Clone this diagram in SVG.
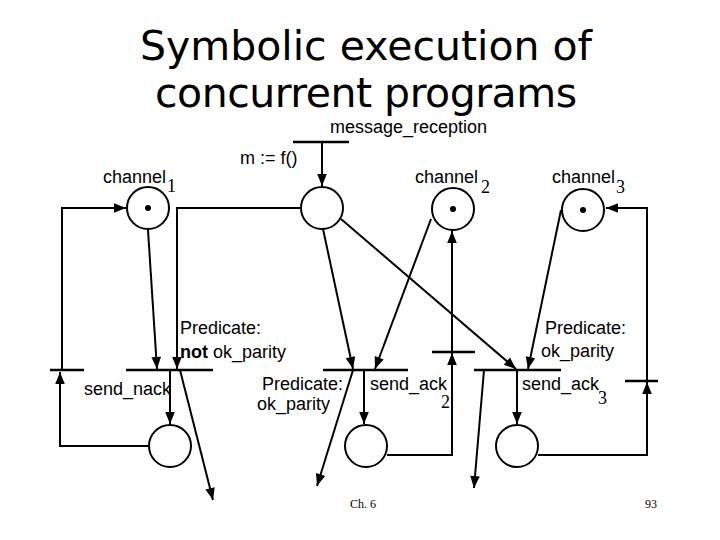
<svg xmlns="http://www.w3.org/2000/svg" width="720" height="540" viewBox="0 0 720 540">
<defs>
<marker id="a" viewBox="0 0 10 10" refX="10" refY="5" markerWidth="14" markerHeight="12" markerUnits="userSpaceOnUse" orient="auto"><path d="M0,1 L10,5 L0,9 Z" fill="#000"/></marker>
<style>
.p{fill:#fff;stroke:#000;stroke-width:2}
.t{stroke:#000;stroke-width:2.5}
.c{fill:none;stroke:#000;stroke-width:2;marker-end:url(#a)}
.l{fill:none;stroke:#000;stroke-width:2}
text{font-family:"Liberation Sans",Arial,sans-serif;font-size:18px;fill:#000}
.s{font-family:"Liberation Serif",serif;font-size:18px}
.f{font-family:"Liberation Serif",serif;font-size:12px}
</style>
</defs>
<rect width="720" height="540" fill="#fff"/>
<g id="title"><text x="366" y="60" text-anchor="middle" style="font-family:'DejaVu Sans',sans-serif;font-size:41px" textLength="452">Symbolic execution of</text>
<text x="366" y="107" text-anchor="middle" style="font-family:'DejaVu Sans',sans-serif;font-size:41px" textLength="422">concurrent programs</text></g>
<g id="connectors">
<path class="c" d="M322,142 V186"/>
<path class="l" d="M170,446 H60 V372"/><path class="c" d="M60,446 V372"/>
<path class="c" d="M62,370 V208 H126"/>
<path class="c" d="M148,230 L157,369"/>
<path class="c" d="M300,208 H177 V369"/>
<path class="c" d="M170,370 V424"/>
<path class="c" d="M180,370 L213,500"/>
<path class="c" d="M323,229 L353,369"/>
<path class="c" d="M341,219 L516,369"/>
<path class="c" d="M431,219 L375,369"/>
<path class="c" d="M364,370 V424"/>
<path class="c" d="M353,370 L317,486"/>
<path class="c" d="M387,455 H452 V353"/>
<path class="c" d="M452,352 V231"/>
<path class="c" d="M561,210 L528,369"/>
<path class="c" d="M484,370 L474,488"/>
<path class="c" d="M517,370 V424"/>
<path class="c" d="M538,455 H647 V382"/>
<path class="c" d="M647,381 V208 H606"/>
</g>
<g id="msg_reception"><line class="t" x1="293" y1="142" x2="349" y2="142"/><text x="330" y="133">message_reception</text><text x="240" y="164">m :=  f()</text></g>
<g id="channel1"><circle class="p" cx="148" cy="208" r="21"/><circle cx="148" cy="208" r="3"/><text x="103" y="183">channel</text><text class="s" x="167" y="192">1</text></g>
<g id="pm"><circle class="p" cx="322" cy="208" r="21"/></g>
<g id="channel2"><circle class="p" cx="453" cy="209" r="21"/><circle cx="453" cy="209" r="3"/><text x="415" y="183">channel</text><text class="s" x="481" y="193">2</text></g>
<g id="channel3"><circle class="p" cx="583" cy="210" r="21"/><circle cx="583" cy="210" r="3"/><text x="552" y="183">channel</text><text class="s" x="616" y="193">3</text></g>
<g id="t_left"><line class="t" x1="50" y1="370" x2="84" y2="370"/></g>
<g id="send_nack"><line class="t" x1="126" y1="370" x2="213" y2="370"/><text x="84" y="395">send_nack</text><text x="180" y="334">Predicate:</text><text x="180" y="358"><tspan font-weight="bold">not</tspan> ok_parity</text></g>
<g id="t_mid"><line class="t" x1="323" y1="370" x2="408" y2="370"/><text x="262" y="390">Predicate:</text><text x="257" y="410">ok_parity</text><text x="370" y="390">send_ack</text><text class="s" x="441" y="408">2</text></g>
<g id="send_ack2"><line class="t" x1="432" y1="352" x2="475" y2="352"/></g>
<g id="send_ack3"><line class="t" x1="474" y1="370" x2="561" y2="370"/><text x="545" y="334">Predicate:</text><text x="541" y="357">ok_parity</text><text x="522" y="390">send_ack</text><text class="s" x="598" y="404">3</text></g>
<g id="t_right"><line class="t" x1="625" y1="381" x2="658" y2="381"/></g>
<g id="p4"><circle class="p" cx="170" cy="446" r="21"/></g>
<g id="p5"><circle class="p" cx="366" cy="446" r="21"/></g>
<g id="p6"><circle class="p" cx="517" cy="446" r="21"/></g>
<text class="f" x="350" y="508">Ch. 6</text><text class="f" x="645" y="508">93</text>
</svg>
